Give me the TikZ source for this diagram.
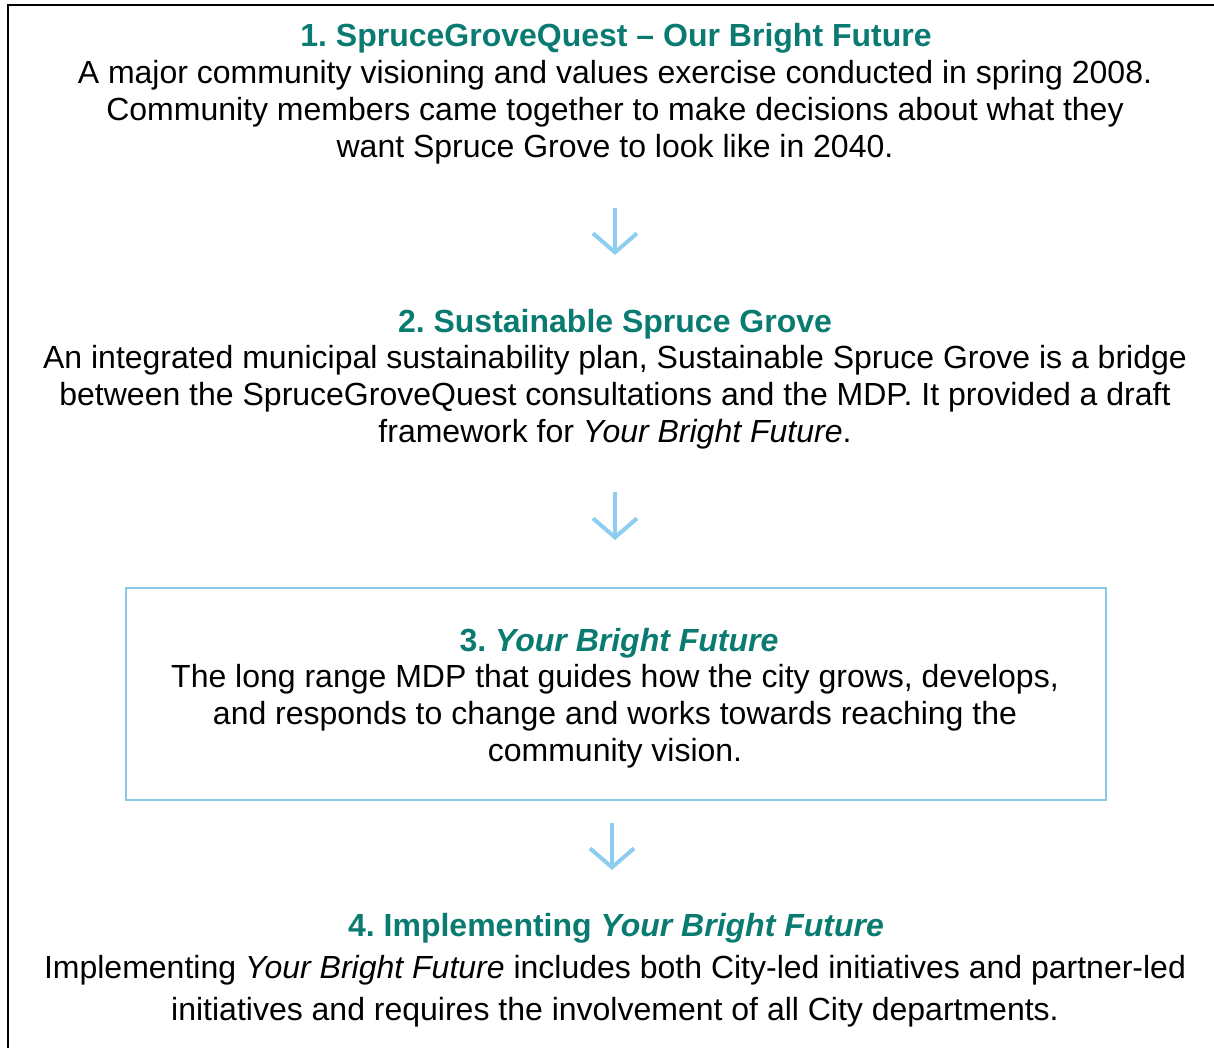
\documentclass[tikz,border=0pt]{standalone}
\usepackage{fontspec}
\setmainfont{Liberation Sans}
\usetikzlibrary{arrows.meta}
\frenchspacing

\definecolor{stepteal}{HTML}{0A7B70}
\definecolor{arrowblue}{HTML}{8DCDF0}
\definecolor{boxblue}{HTML}{8BC8E8}

\begin{document}
\begin{tikzpicture}[x=1pt,y=-1pt,
    title/.style={anchor=base,inner sep=0pt,text=stepteal,font=\fontsize{32}{37}\selectfont\bfseries},
    body/.style={anchor=north,inner sep=0pt,align=center,font=\fontsize{32}{37}\selectfont},
    flow/.style={arrowblue,line width=4pt,-{Straight Barb[length=19pt,width=44pt]}}]
    \useasboundingbox (0,0) rectangle (1214,1048);

    % outer frame
    \draw[line width=2pt] (8,1060) -- (8,5) -- (1220,5);

    % box around step 3
    \node[draw=boxblue,line width=2pt,minimum width=980pt,minimum height=212pt,inner sep=0pt] (box3) at (616,694) {};

    \node[title] (title1) at (616,47) {1. SpruceGroveQuest -- Our Bright Future};
    \node[body] (text1) at (615,60) {A major community visioning and values exercise conducted in spring 2008.\\
        Community members came together to make decisions about what they\\
        want Spruce Grove to look like in 2040.};

    \node[title] (title2) at (615,332) {2. Sustainable Spruce Grove};
    \node[body] (text2) at (615,345) {An integrated municipal sustainability plan, Sustainable Spruce Grove is a bridge\\
        between the SpruceGroveQuest consultations and the MDP. It provided a draft\\
        framework for \textit{Your Bright Future}.};

    \node[title] (title3) at (619,651) {3. \textit{Your Bright Future}};
    \node[body] (text3) at (615,664) {The long range MDP that guides how the city grows, develops,\\
        and responds to change and works towards reaching the\\
        community vision.};

    \node[title] (title4) at (616,936) {4. Implementing \textit{Your Bright Future}};
    \node[body,font=\fontsize{32}{42}\selectfont] (text4) at (615,955) {Implementing \textit{Your Bright Future} includes both City-led initiatives and partner-led\\
        initiatives and requires the involvement of all City departments.};

    % arrows between steps
    \coordinate (a1_top) at (615,208);
    \coordinate (a1_end) at (615,255);
    \coordinate (a2_top) at (615,492);
    \coordinate (a2_end) at (615,540);
    \coordinate (a3_top) at (612,823);
    \coordinate (a3_end) at (612,870);

    \draw[flow] (a1_top) -- (a1_end);
    \draw[flow] (a2_top) -- (a2_end);
    \draw[flow] (a3_top) -- (a3_end);
\end{tikzpicture}
\end{document}
